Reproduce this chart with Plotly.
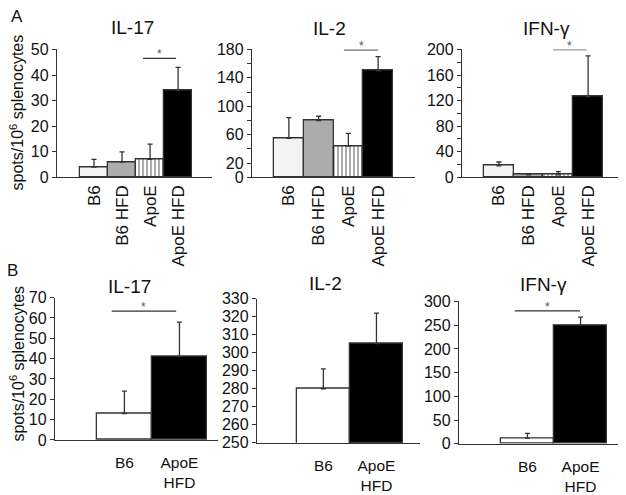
import plotly.graph_objects as go

W, H = 626, 495
OFF = 8  # default page body margin
FW, FH = W - OFF, H - OFF
FONT = "Liberation Sans, Arial, Helvetica, sans-serif"
TXT = "#111111"
AX = "#333333"

# ---------------- data ----------------
cats_a = ["B6", "B6 HFD", "ApoE", "ApoE HFD"]
cats_b = ["B6", "ApoE<br>HFD"]

a_il17 = [4, 6, 7, 34]
a_il17_err = [3, 4, 6, 9]
a_il2 = [55, 80, 44, 150]
a_il2_err = [29, 6, 18, 20]
a_ifng = [18, 4, 4, 126]
a_ifng_err = [6, 2, 5, 64]

b_il17 = [13, 41]
b_il17_err = [11, 17]
b_il2 = [280, 305]
b_il2_err = [11, 17]
b_ifng = [12, 250]
b_ifng_err = [10, 17]

titles = ["IL-17", "IL-2", "IFN-γ", "IL-17", "IL-2", "IFN-γ"]

a_il17_ticks = [0, 10, 20, 30, 40, 50]
a_il17_labels = ["0", "10", "20", "30", "40", "50"]
a_il2_ticks = [0, 20, 40, 60, 80, 100, 120, 140, 160, 180]
a_il2_labels = ["0", "20", "", "60", "", "100", "", "140", "", "180"]
a_ifng_ticks = [0, 20, 40, 60, 80, 100, 120, 140, 160, 180, 200]
a_ifng_labels = ["0", "", "40", "", "80", "", "120", "", "160", "", "200"]
b_il17_ticks = [0, 10, 20, 30, 40, 50, 60, 70]
b_il2_ticks = [250, 260, 270, 280, 290, 300, 310, 320, 330]
b_ifng_ticks = [0, 50, 100, 150, 200, 250, 300]

# significance brackets: (x0, x1, y) in data units
sig_a_il17 = [1.75, 2.93, 46.5]
sig_a_il2 = [1.85, 3.0, 179.5]
sig_a_ifng = [1.82, 2.96, 199.5]
sig_b_il17 = [-0.23, 0.94, 63.4]
sig_b_ifng = [-0.24, 0.99, 280]

# ---------------- layout geometry (pixels in the screenshot) ----------------
def px_x(p):
    return (p - OFF) / FW

def px_y(p):
    return 1 - (p - OFF) / FH

panels = [
    dict(xd=(57, 212), yd=(177, 43), xr=(-1.32, 4.21), yr=(0, 50)),
    dict(xd=(252, 415), yd=(177, 43), xr=(-1.24, 4.24), yr=(0, 180)),
    dict(xd=(462, 622), yd=(177, 43), xr=(-1.24, 4.14), yr=(0, 200)),
    dict(xd=(55, 218), yd=(452, 303), xr=(-1.26, 1.70), yr=(0, 70)),
    dict(xd=(257, 420), yd=(455, 304), xr=(-1.25, 1.82), yr=(250, 330)),
    dict(xd=(459, 623), yd=(456, 307), xr=(-1.29, 1.80), yr=(0, 300)),
]

fills_a = ["#f3f3f3", "#acacac", "#ffffff", "#000000"]
pat_a = ["", "", "|", ""]
fills_b = ["#ffffff", "#000000"]

fig = go.Figure()

def add_bars(idx, vals, errs, fills, pats):
    n = len(vals)
    sfx = "" if idx == 0 else str(idx + 1)
    fig.add_trace(go.Bar(
        x=list(range(n)), y=vals, width=[1] * n,
        marker=dict(color=fills, line=dict(color=AX, width=1.3),
                    pattern=dict(shape=pats, fgcolor="#222222", bgcolor="#ffffff",
                                 size=4, solidity=0.45)),
        error_y=dict(type="data", symmetric=False, array=errs, arrayminus=[0] * n,
                     color=AX, thickness=1.3, width=2.5),
        xaxis="x" + sfx, yaxis="y" + sfx, showlegend=False, hoverinfo="y",
    ))

add_bars(0, a_il17, a_il17_err, fills_a, pat_a)
add_bars(1, a_il2, a_il2_err, fills_a, pat_a)
add_bars(2, a_ifng, a_ifng_err, fills_a, pat_a)
add_bars(3, b_il17, b_il17_err, fills_b, ["", ""])
add_bars(4, b_il2, b_il2_err, fills_b, ["", ""])
add_bars(5, b_ifng, b_ifng_err, fills_b, ["", ""])

tickinfo = [
    (a_il17_ticks, a_il17_labels),
    (a_il2_ticks, a_il2_labels),
    (a_ifng_ticks, a_ifng_labels),
    (b_il17_ticks, [str(t) for t in b_il17_ticks]),
    (b_il2_ticks, [str(t) for t in b_il2_ticks]),
    (b_ifng_ticks, [str(t) for t in b_ifng_ticks]),
]

layout = dict(
    width=FW, height=FH, margin=dict(l=0, r=0, t=0, b=0),
    paper_bgcolor="white", plot_bgcolor="rgba(0,0,0,0)",
    font=dict(family=FONT, color=TXT), bargap=0,
)
for i, p in enumerate(panels):
    sfx = "" if i == 0 else str(i + 1)
    cats = cats_a if i < 3 else cats_b
    tv, tt = tickinfo[i]
    layout["xaxis" + sfx] = dict(
        domain=[px_x(p["xd"][0]), px_x(p["xd"][1])], range=list(p["xr"]),
        anchor="y" + sfx, showline=True, linecolor=AX, linewidth=1.3,
        ticks="", showgrid=False, zeroline=False,
        tickmode="array", tickvals=list(range(len(cats))), ticktext=cats,
        tickangle=-90 if i < 3 else 0,
        ticklabelstandoff=0 if i < 3 else 8,
        tickfont=dict(size=17 if i < 3 else 15.5, color=TXT, family=FONT),
        fixedrange=True,
    )
    layout["yaxis" + sfx] = dict(
        domain=[px_y(p["yd"][0]), px_y(p["yd"][1])], range=list(p["yr"]),
        anchor="x" + sfx, showline=True, linecolor=AX, linewidth=1.3,
        ticks="outside", ticklen=4, tickwidth=1.2, tickcolor=AX,
        showgrid=False, zeroline=False,
        tickmode="array", tickvals=tv, ticktext=tt,
        tickfont=dict(size=16, color=TXT, family=FONT),
        fixedrange=True,
    )
fig.update_layout(**layout)

# titles
title_pos = [(132, 20), (329, 21), (546, 21), (130, 291), (325, 288), (543, 289)]
for t, (x, y) in zip(titles, title_pos):
    fig.add_annotation(text=t, x=px_x(x), y=px_y(y), xref="paper", yref="paper",
                       showarrow=False, xanchor="center", yanchor="middle",
                       font=dict(size=19, family=FONT, color=TXT))

# panel letters
for t, (x, y) in zip(["A", "B"], [(17, 8), (12, 275)]):
    fig.add_annotation(text=t, x=px_x(x), y=px_y(y), xref="paper", yref="paper",
                       showarrow=False, xanchor="center", yanchor="middle",
                       font=dict(size=17, family=FONT, color=TXT))

# y-axis titles
for (x, y) in [(17, 109), (17, 372)]:
    fig.add_annotation(text="spots/10<sup>6</sup> splenocytes", x=px_x(x), y=px_y(y),
                       xref="paper", yref="paper", showarrow=False, textangle=-90,
                       xanchor="center", yanchor="middle",
                       font=dict(size=16, family=FONT, color=TXT))

# significance brackets
for idx, s in [(0, sig_a_il17), (1, sig_a_il2), (2, sig_a_ifng), (3, sig_b_il17), (5, sig_b_ifng)]:
    sfx = "" if idx == 0 else str(idx + 1)
    p = panels[idx]
    fig.add_shape(type="line", x0=s[0], x1=s[1], y0=s[2], y1=s[2],
                  xref="x" + sfx, yref="y" + sfx, line=dict(color=AX, width=1.2))
    # star placed in paper space (never hidden above the axis range), a few px above the line
    y0d, y1d = px_y(p["yd"][0]), px_y(p["yd"][1])
    r0, r1 = p["yr"]
    yline = y0d + (s[2] - r0) / (r1 - r0) * (y1d - y0d)
    fig.add_annotation(text="*", x=(s[0] + s[1]) / 2, y=yline, xref="x" + sfx, yref="paper",
                       showarrow=False, xanchor="center", yanchor="middle", yshift=4,
                       font=dict(size=12, family=FONT, color="#555555"))

fig.write_html("out.html")
